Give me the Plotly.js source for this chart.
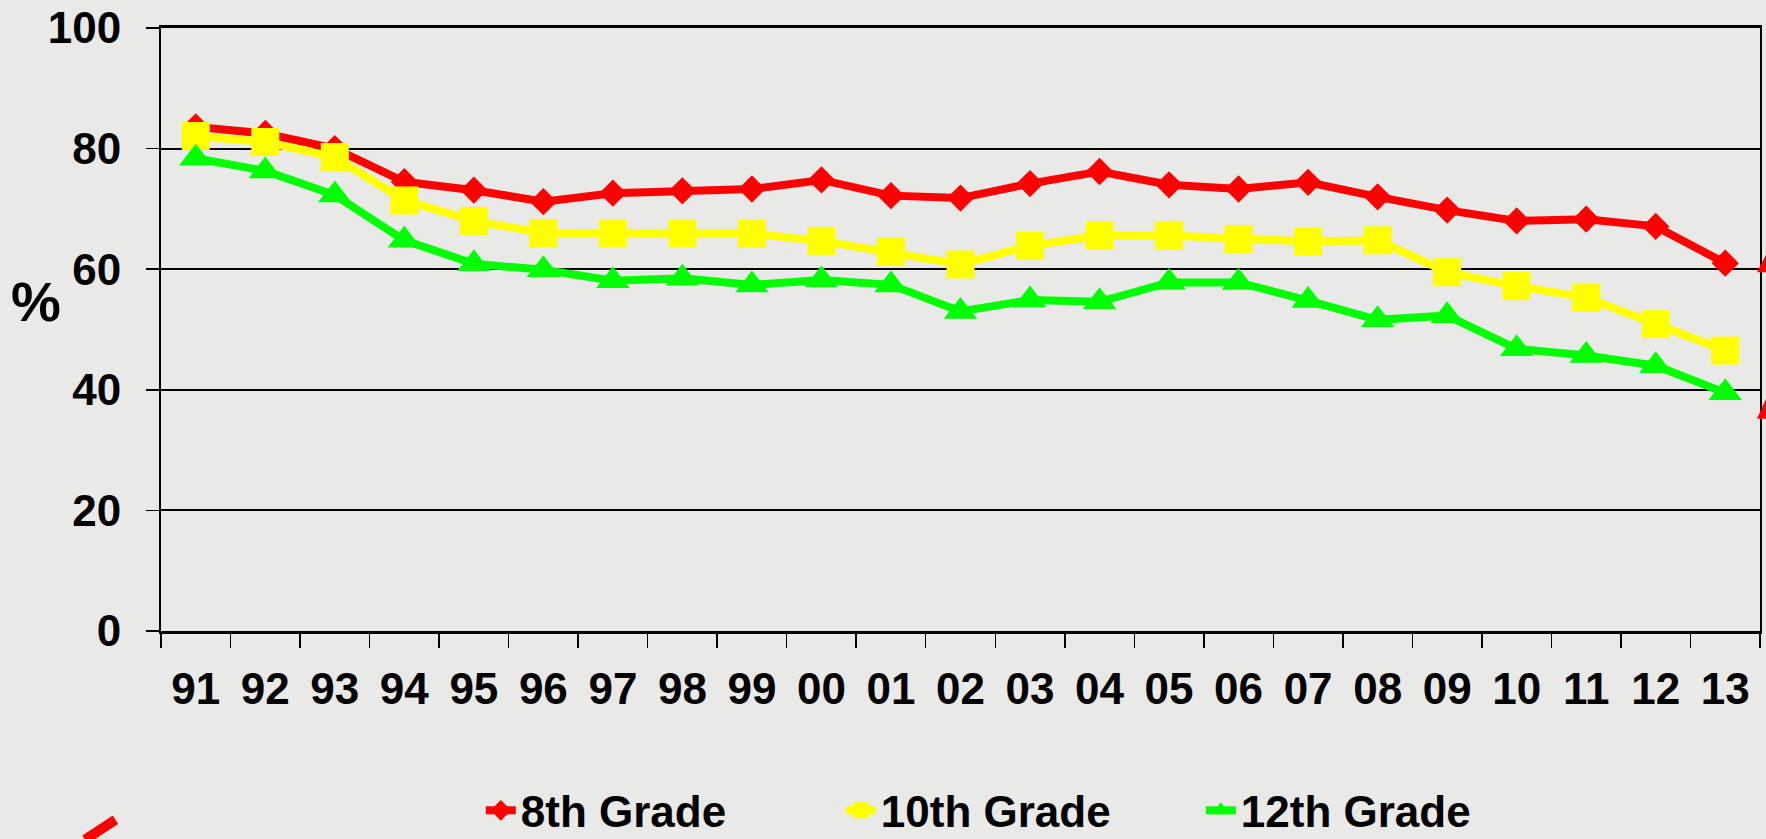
<!DOCTYPE html>
<html>
<head>
<meta charset="utf-8">
<script src="https://cdn.plot.ly/plotly-3.0.1.min.js"></script>
<style>
  html, body { margin: 0; padding: 0; background: #e9e9e7; }
  #chart { width: 1766px; height: 839px; }
</style>
</head>
<body>
<div id="chart"></div>
<script>
const years = ['91','92','93','94','95','96','97','98','99','00','01','02','03','04','05','06','07','08','09','10','11','12','13'];
const grade8  = [83.6, 82.5, 80.0, 74.5, 73.1, 71.2, 72.6, 73.0, 73.3, 74.8, 72.2, 71.8, 74.2, 76.2, 74.0, 73.3, 74.4, 72.0, 69.8, 68.0, 68.3, 67.1, 61.0];
const grade10 = [82.1, 81.1, 78.6, 71.4, 68.0, 66.0, 65.9, 65.9, 65.9, 64.7, 62.9, 60.8, 63.9, 65.6, 65.6, 65.0, 64.6, 64.8, 59.5, 57.2, 55.3, 50.9, 46.5];
const grade12 = [78.4, 76.3, 72.3, 64.8, 60.9, 59.9, 58.1, 58.5, 57.4, 58.2, 57.4, 53.0, 54.9, 54.6, 57.8, 57.8, 54.8, 51.6, 52.3, 46.8, 45.7, 44.0, 39.5];
const seriesNames = ['8th Grade', '10th Grade', '12th Grade'];
const yTicks = [0, 20, 40, 60, 80, 100];

const FONT = 'Liberation Sans, Arial, Helvetica, sans-serif';

const traces = [
  {x: years, y: grade8, name: seriesNames[0], type: 'scatter', mode: 'lines+markers',
   line: {color: '#ff0000', width: 8}, marker: {symbol: 'diamond', size: 21, color: '#ff0000'}},
  {x: years, y: grade10, name: seriesNames[1], type: 'scatter', mode: 'lines+markers',
   line: {color: '#ffff00', width: 8}, marker: {symbol: 'square', size: 28, color: '#ffff00'}},
  {x: years, y: grade12, name: seriesNames[2], type: 'scatter', mode: 'lines+markers',
   line: {color: '#00ff00', width: 8}, marker: {symbol: 'triangle-up', size: 29, color: '#00ff00'}}
];

const layout = {
  width: 1766, height: 839,
  margin: {l: 161, r: 6, t: 28, b: 208, autoexpand: false},
  paper_bgcolor: 'rgba(0,0,0,0)',
  plot_bgcolor: 'rgba(0,0,0,0)',
  font: {family: FONT, size: 44, color: '#000', weight: 'bold'},
  showlegend: true,
  legend: {
    orientation: 'h', x: 0.200, xanchor: 'left', y: -0.298, yanchor: 'middle',
    font: {family: FONT, size: 44, color: '#000', weight: 'bold'},
    entrywidth: 315, entrywidthmode: 'pixels',
    bgcolor: 'rgba(0,0,0,0)', itemwidth: 30
  },
  xaxis: {
    type: 'category', range: [-0.5, 22.5], fixedrange: true,
    tickson: 'boundaries', ticks: 'outside', ticklen: 14, tickwidth: 1.5, tickcolor: '#000',
    showline: true, linecolor: '#000', linewidth: 3, mirror: true,
    showgrid: false, zeroline: false,
    tickfont: {family: FONT, size: 44, color: '#000', weight: 'bold'},
    ticklabelstandoff: 17
  },
  yaxis: {
    range: [0, 100], tickvals: yTicks, ticktext: yTicks.map(String), fixedrange: true,
    ticks: 'outside', ticklen: 13, tickwidth: 1.5, tickcolor: '#000',
    showline: true, linecolor: '#000', linewidth: 2, mirror: true,
    showgrid: true, gridcolor: '#000', gridwidth: 2, zeroline: false,
    tickfont: {family: FONT, size: 44, color: '#000', weight: 'bold'},
    ticklabelstandoff: 16
  },
  annotations: [
    {text: '%', xref: 'paper', yref: 'paper', x: -0.078, y: 0.546, xanchor: 'center', yanchor: 'middle',
     showarrow: false, font: {family: FONT, size: 56, color: '#000', weight: 'bold'}}
  ],
  shapes: [
    {type: 'line', xref: 'paper', yref: 'paper', x0: -0.0475, y0: -0.346, x1: -0.0285, y1: -0.313,
     line: {color: '#ff0000', width: 10}},
    {type: 'path', xref: 'paper', yref: 'paper',
     path: 'M 0.9981 0.595 L 1.0038 0.624 L 1.0038 0.595 Z', fillcolor: '#ff0000', line: {width: 0}},
    {type: 'path', xref: 'paper', yref: 'paper',
     path: 'M 0.9981 0.352 L 1.0038 0.385 L 1.0038 0.352 Z', fillcolor: '#ff0000', line: {width: 0}}
  ]
};

Plotly.newPlot('chart', traces, layout, {displayModeBar: false, staticPlot: true});
</script>
</body>
</html>
